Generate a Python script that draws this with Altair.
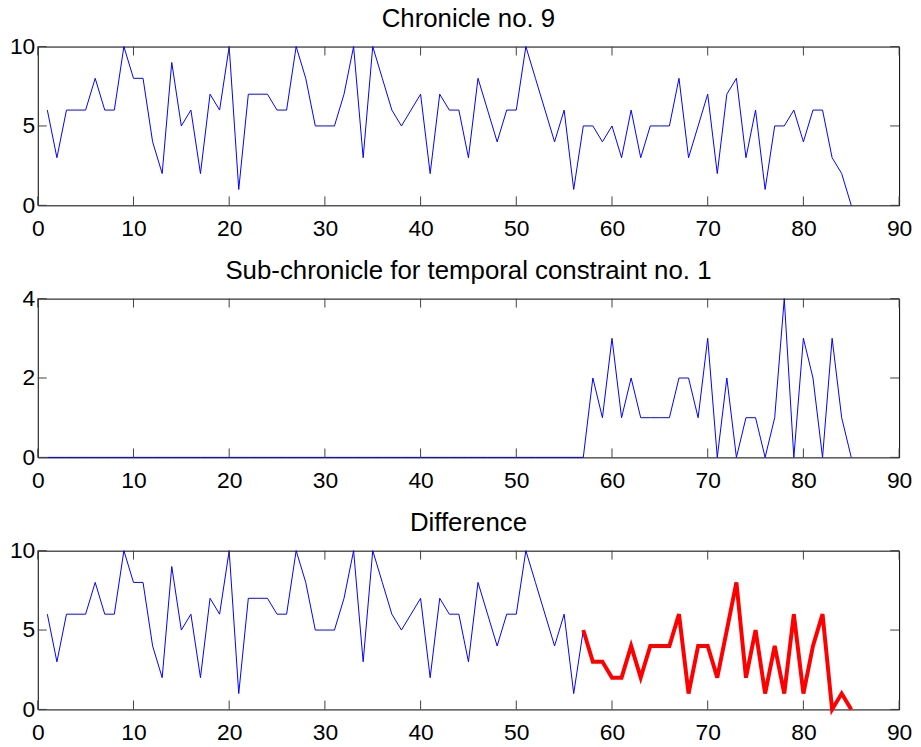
import altair as alt
import pandas as pd

# ---- data ----
x_index = list(range(1, 86))
chronicle = [6, 3, 6, 6, 6, 8, 6, 6, 10, 8,
             8, 4, 2, 9, 5, 6, 2, 7, 6, 10,
             1, 7, 7, 7, 6, 6, 10, 8, 5, 5,
             5, 7, 10, 3, 10, 8, 6, 5, 6, 7,
             2, 7, 6, 6, 3, 8, 6, 4, 6, 6,
             10, 8, 6, 4, 6, 1, 5, 5, 4, 5,
             3, 6, 3, 5, 5, 5, 8, 3, 5, 7,
             2, 7, 8, 3, 6, 1, 5, 5, 6, 4,
             6, 6, 3, 2, 0]
sub_chronicle = [0] * 56 + [0, 2, 1, 3, 1, 2, 1, 1, 1, 1,
                            2, 2, 1, 3, 0, 2, 0, 1, 1, 0,
                            1, 4, 0, 3, 2, 0, 3, 1, 0]
difference_red = [5, 3, 3, 2, 2, 4, 2, 4, 4, 4,
                  6, 1, 4, 4, 2, 5, 8, 2, 5, 1,
                  4, 1, 6, 1, 4, 6, 0, 1, 0]
difference = chronicle[:56] + difference_red
red_start = 57

x_ticks = [0, 10, 20, 30, 40, 50, 60, 70, 80, 90]
y_ticks_top = [0, 5, 10]
y_ticks_mid = [0, 2, 4]
y_ticks_bot = [0, 5, 10]

titles = ["Chronicle no. 9", "Sub-chronicle for temporal constraint no. 1", "Difference"]

W = 868
H = 160
TICK = 9
FONT = "Liberation Sans"

df_top = pd.DataFrame({"x": x_index, "y": chronicle})
df_mid = pd.DataFrame({"x": x_index, "y": sub_chronicle})
df_bot = pd.DataFrame({"x": x_index, "y": difference})
df_blue_bot = df_bot[df_bot["x"] <= red_start]
df_red_bot = df_bot[df_bot["x"] >= red_start]


def panel(lines, ymax, yticks, title):
    xs = alt.Scale(domain=[0, 90], nice=False, zero=False)
    ys = alt.Scale(domain=[0, ymax], nice=False)
    xaxis = alt.Axis(values=x_ticks, ticks=False, tickSize=0, domain=False, grid=False,
                     labelFontSize=23, labelPadding=12, labelFont=FONT, labelColor="black",
                     title=None, labelFlush=False)
    yaxis = alt.Axis(values=yticks, ticks=False, tickSize=0, domain=False, grid=False,
                     labelFontSize=23, labelPadding=3, labelFont=FONT, labelColor="black",
                     title=None)
    layers = []
    for df, color, sw in lines:
        layers.append(
            alt.Chart(df).mark_line(color=color, strokeWidth=sw).encode(
                x=alt.X("x:Q", scale=xs, axis=xaxis),
                y=alt.Y("y:Q", scale=ys, axis=yaxis),
            )
        )
    xt = pd.DataFrame({"x": x_ticks})
    yt = pd.DataFrame({"y": yticks})
    tick_style = dict(color="#404040", strokeWidth=1)
    layers.append(alt.Chart(xt).mark_rule(**tick_style).encode(
        x=alt.X("x:Q", scale=xs, axis=xaxis), y=alt.value(H), y2=alt.value(H - TICK)))
    layers.append(alt.Chart(xt).mark_rule(**tick_style).encode(
        x=alt.X("x:Q", scale=xs, axis=xaxis), y=alt.value(0), y2=alt.value(TICK)))
    layers.append(alt.Chart(yt).mark_rule(**tick_style).encode(
        y=alt.Y("y:Q", scale=ys, axis=yaxis), x=alt.value(0), x2=alt.value(TICK)))
    layers.append(alt.Chart(yt).mark_rule(**tick_style).encode(
        y=alt.Y("y:Q", scale=ys, axis=yaxis), x=alt.value(W), x2=alt.value(W - TICK)))
    layers.append(alt.Chart(pd.DataFrame({"t": [title]})).mark_text(
        fontSize=26, font=FONT, color="black", align="center", baseline="alphabetic"
    ).encode(text="t:N", x=alt.value(W / 2), y=alt.value(-20)))
    return alt.layer(*layers).properties(width=W, height=H)


p1 = panel([(df_top, "#0000FF", 1)], 10, y_ticks_top, titles[0])
p2 = panel([(df_mid, "#0000FF", 1)], 4, y_ticks_mid, titles[1])
p3 = panel([(df_blue_bot, "#0000FF", 1), (df_red_bot, "#FF0000", 4)], 10, y_ticks_bot, titles[2])

chart = alt.vconcat(p1, p2, p3, spacing=16).properties(
    padding={"left": 0, "top": -6, "right": 0, "bottom": 0},
    background="white",
).configure_view(stroke="black", strokeWidth=1)

chart.save("out.html", embed_options={"renderer": "svg", "actions": False})
